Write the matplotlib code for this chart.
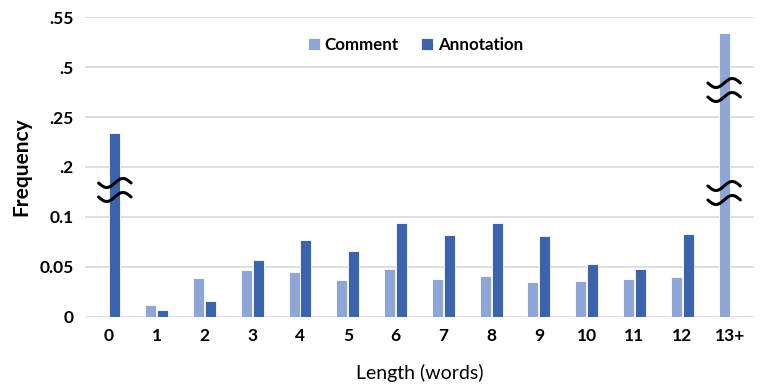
import numpy as np
import matplotlib
matplotlib.use('Agg')
from matplotlib import pyplot as plt

plt.rcParams['font.family'] = ['Lato', 'DejaVu Sans']

categories = ['0', '1', '2', '3', '4', '5', '6', '7', '8', '9', '10', '11', '12', '13+']
comment = [0.0, 0.012, 0.039, 0.047, 0.045, 0.037, 0.048, 0.038, 0.041, 0.035, 0.036, 0.038, 0.040, 0.534]
annotation = [0.234, 0.007, 0.016, 0.057, 0.077, 0.066, 0.094, 0.082, 0.094, 0.081, 0.053, 0.048, 0.083, 0.0]

# broken axis: real tick values and where they sit on the drawn scale
tick_labels = ['0', '0.05', '0.1', '.2', '.25', '.5', '.55']
tick_real = [0, 0.05, 0.1, 0.2, 0.25, 0.5, 0.55]
tick_pos = [0, 0.05, 0.1, 0.15, 0.2, 0.25, 0.3]


def to_display(v):
    return float(np.interp(v, tick_real, tick_pos))


c_comment = '#8FA5D6'
c_annot = '#3C64AE'

fig = plt.figure(figsize=(7.62, 3.87), dpi=100)
ax = fig.add_axes([0.1115, 0.181, 0.878, 0.775])

x = np.arange(len(categories))
w = 0.23
ax.bar(x - 0.125, [to_display(v) for v in comment], w, color=c_comment,
       edgecolor='white', linewidth=0.6, label='Comment', zorder=3)
ax.bar(x + 0.125, [to_display(v) for v in annotation], w, color=c_annot,
       edgecolor='white', linewidth=0.6, label='Annotation', zorder=3)


def squiggle(xc, yc):
    t = np.linspace(-1, 1, 60)
    for dy in (0.007, -0.007):
        ax.plot(xc + t * 0.34, yc + dy + 0.0045 * np.sin(t * np.pi), color='black',
                lw=2.2, zorder=5, solid_capstyle='round', clip_on=False)


squiggle(0.125, 0.127)
squiggle(13 - 0.125, 0.124)
squiggle(13 - 0.125, 0.227)

ax.set_xlim(-0.5, len(categories) - 0.5)
ax.set_ylim(0, 0.3)
ax.set_yticks(tick_pos)
ax.set_yticklabels(tick_labels, fontsize=12.5, fontweight='bold')
ax.set_xticks(x)
ax.set_xticklabels(categories, fontsize=12.5, fontweight='bold')
ax.tick_params(length=0, pad=8)
ax.yaxis.grid(True, color='#D9D9D9', lw=1.2, zorder=0)
for s in ax.spines.values():
    s.set_visible(False)

ax.set_ylabel('Frequency', fontsize=15, fontweight='bold', labelpad=6)
ax.set_xlabel('Length (words)', fontsize=14, labelpad=14)

fig.legend(loc='center', bbox_to_anchor=(0.545, 0.884), ncol=2, frameon=False,
           handlelength=0.7, handleheight=0.7, handletextpad=0.3, columnspacing=1.3,
           prop={'weight': 'bold', 'size': 12.2})

fig.savefig('out.png', dpi=100)
